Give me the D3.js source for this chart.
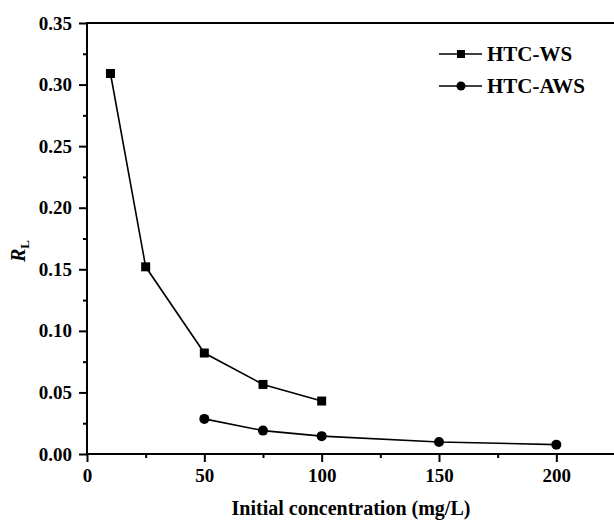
<!DOCTYPE html>
<html>
<head>
<meta charset="utf-8">
<script src="https://cdn.jsdelivr.net/npm/d3@7"></script>
<style>
    body { margin: 0; background: #fff; }
    svg { display: block; font-family: "Liberation Serif", "Times New Roman", serif; font-weight: bold; }
</style>
</head>
<body>
<div id="chart"></div>
<script>
const concWS = [10, 25, 50, 75, 100];
const rlWS = [0.309, 0.152, 0.082, 0.0565, 0.043];
const concAWS = [50, 75, 100, 150, 200];
const rlAWS = [0.0285, 0.019, 0.0145, 0.0098, 0.0076];
const seriesNames = ['HTC-WS', 'HTC-AWS'];
const xTicks = [0, 50, 100, 150, 200];
const yTicks = [0, 0.05, 0.10, 0.15, 0.20, 0.25, 0.30, 0.35];

const width = 614;
const height = 520;
const margin = { top: 23, right: -1, bottom: 66, left: 87 };

const svg = d3.select('#chart').append('svg')
    .attr('width', width)
    .attr('height', height);

const x = d3.scaleLinear()
    .domain([0, 225])
    .range([margin.left, width - margin.right]);

const y = d3.scaleLinear()
    .domain([0, 0.35])
    .range([height - margin.bottom, margin.top]);

function styleAxis(g) {
    g.attr('font-family', null).attr('font-size', null);
    g.select('.domain').remove();
    g.selectAll('line').attr('stroke', '#000').attr('stroke-width', 2);
    g.selectAll('text')
        .attr('fill', '#000')
        .style('font-family', '"Liberation Serif", "Times New Roman", serif')
        .style('font-size', '19px')
        .style('font-weight', 'bold');
}

// minor ticks
svg.append('g')
    .attr('transform', 'translate(0,' + y(0) + ')')
    .call(d3.axisBottom(x).tickValues([25, 75, 125, 175, 225]).tickSize(4).tickFormat(''))
    .call(styleAxis);
svg.append('g')
    .attr('transform', 'translate(' + x(0) + ',0)')
    .call(d3.axisLeft(y).tickValues([0.025, 0.075, 0.125, 0.175, 0.225, 0.275, 0.325]).tickSize(4).tickFormat(''))
    .call(styleAxis);

// major ticks
svg.append('g')
    .attr('transform', 'translate(0,' + y(0) + ')')
    .call(d3.axisBottom(x).tickValues(xTicks).tickSize(8).tickPadding(7).tickFormat(d3.format('d')))
    .call(styleAxis);
svg.append('g')
    .attr('transform', 'translate(' + x(0) + ',0)')
    .call(d3.axisLeft(y).tickValues(yTicks).tickSize(8).tickPadding(7).tickFormat(d3.format('.2f')))
    .call(styleAxis);

// frame
svg.append('rect')
    .attr('x', x(0))
    .attr('y', y(0.35))
    .attr('width', width + 10 - x(0))
    .attr('height', y(0) - y(0.35))
    .attr('fill', 'none')
    .attr('stroke', '#000')
    .attr('stroke-width', 2);

const line = d3.line().x(d => x(d[0])).y(d => y(d[1]));
const ws = concWS.map((c, i) => [c, rlWS[i]]);
const aws = concAWS.map((c, i) => [c, rlAWS[i]]);

svg.append('path').datum(ws)
    .attr('d', line)
    .attr('fill', 'none')
    .attr('stroke', '#000')
    .attr('stroke-width', 1.6);
svg.append('path').datum(aws)
    .attr('d', line)
    .attr('fill', 'none')
    .attr('stroke', '#000')
    .attr('stroke-width', 1.6);

svg.selectAll('.sq').data(ws).enter()
    .append('rect')
    .attr('x', d => x(d[0]) - 4.5)
    .attr('y', d => y(d[1]) - 4.5)
    .attr('width', 9)
    .attr('height', 9)
    .attr('fill', '#000');
svg.selectAll('.ci').data(aws).enter()
    .append('circle')
    .attr('cx', d => x(d[0]))
    .attr('cy', d => y(d[1]))
    .attr('r', 5)
    .attr('fill', '#000');

// legend
const legend = svg.append('g');
seriesNames.forEach((name, i) => {
    const ly = 54 + i * 32;
    legend.append('line')
        .attr('x1', 439).attr('x2', 482)
        .attr('y1', ly).attr('y2', ly)
        .attr('stroke', '#000').attr('stroke-width', 1.6);
    if (i === 0) {
        legend.append('rect')
            .attr('x', 457).attr('y', ly - 4)
            .attr('width', 8).attr('height', 8)
            .attr('fill', '#000');
    } else {
        legend.append('circle')
            .attr('cx', 461).attr('cy', ly)
            .attr('r', 4.5)
            .attr('fill', '#000');
    }
    legend.append('text')
        .attr('x', 487).attr('y', ly + 7)
        .style('font-size', '21px')
        .text(name);
});

// axis titles
svg.append('text')
    .attr('x', 351)
    .attr('y', 515)
    .attr('text-anchor', 'middle')
    .style('font-size', '20px')
    .text('Initial concentration (mg/L)');

const yLabel = svg.append('text')
    .attr('transform', 'translate(25,251) rotate(-90)')
    .attr('text-anchor', 'middle')
    .style('font-size', '20px');
yLabel.append('tspan').style('font-style', 'italic').text('R');
yLabel.append('tspan').attr('dy', 4).style('font-size', '13px').text('L');
</script>
</body>
</html>
